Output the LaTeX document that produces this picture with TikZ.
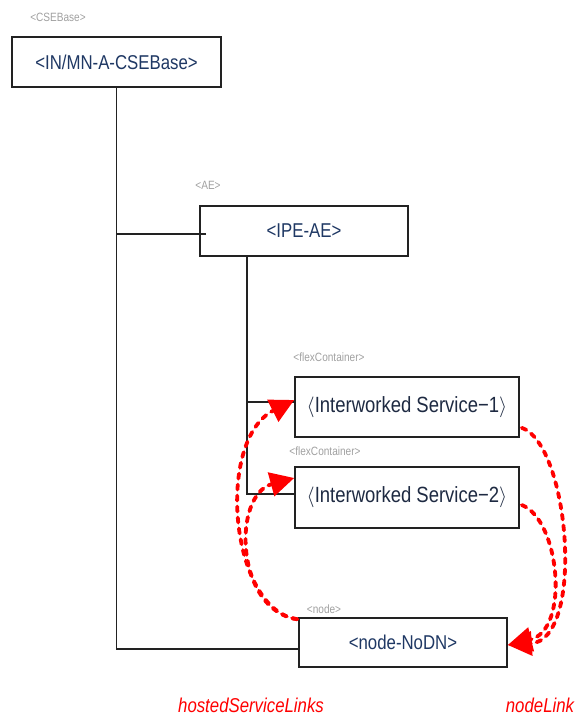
\documentclass[tikz,border=0pt]{standalone}
\usepackage{fontspec}
\newfontfamily\cf{Liberation Sans}[FakeStretch=0.84]
\usetikzlibrary{arrows.meta}
\definecolor{navy}{RGB}{31,56,100}
\definecolor{iwnavy}{RGB}{30,42,66}
\definecolor{lblgray}{RGB}{160,160,160}
\definecolor{edgeblack}{RGB}{34,34,34}
\tikzset{
 box/.style={draw=edgeblack, line width=1.6pt, fill=white, inner sep=0pt, text=navy, font=\cf\fontsize{20}{20}\selectfont},
 iwbox/.style={box, text=iwnavy, font=\cf\fontsize{22}{22}\selectfont},
 tag/.style={text=lblgray, inner sep=0pt, font=\cf\fontsize{12}{12}\selectfont},
 tree/.style={draw=edgeblack, line width=1.5pt},
 link/.style={draw=red, line width=3.8pt, line cap=round, dash pattern=on 5pt off 6pt, -{Triangle[length=24pt 0,width=24pt 0]}},
 linklabel/.style={text=red, inner sep=0pt, font=\cf\itshape\fontsize{20}{20}\selectfont}
}
\begin{document}
\begin{tikzpicture}[x=1pt,y=-1pt]
\useasboundingbox (0,0) rectangle (581,718);
% boxes
\node[box, minimum width=209pt, minimum height=50pt] (cse) at (116.5,62) {<IN/MN-A-CSEBase>};
\node[box, minimum width=208pt, minimum height=50pt] (ae) at (304,231) {<IPE-AE>};
\node[iwbox, minimum width=224pt, minimum height=60pt] (is1) at (407,407) {$\langle$Interworked Service−1$\rangle$};
\node[iwbox, minimum width=224pt, minimum height=61pt] (is2) at (407,497.5) {$\langle$Interworked Service−2$\rangle$};
\node[box, minimum width=208pt, minimum height=49pt] (nodedn) at (403,642.5) {<node-NoDN>};
% type tags
\node[tag] (tcse) at (58,17) {<CSEBase>};
\node[tag] (tae) at (208,185) {<AE>};
\node[tag] (tfc1) at (329,357) {<flexContainer>};
\node[tag] (tfc2) at (325,451) {<flexContainer>};
\node[tag] (tnode) at (324,609) {<node>};
% tree lines
\draw[tree] (cse.south) |- ([yshift=-6.5pt]nodedn.west);
\draw[tree] ([xshift=7pt,yshift=-3pt]ae.west) -| (cse.south);
\coordinate (aeb) at ([xshift=-57pt]ae.south);
\draw[tree] (aeb) |- ([yshift=3.5pt]is2.west);
\draw[tree] ([yshift=5pt]is1.west) -| (aeb);
% links
\draw[link] ([shift={(-1pt,-2pt)}]nodedn.north west) .. controls (230,610) and (215,440) .. ([yshift=7pt]is1.west);
\draw[link] ([shift={(-1pt,-2pt)}]nodedn.north west) .. controls (235,610) and (232,495) .. ([yshift=19.5pt]is2.west);
\draw[link] ([shift={(2pt,10pt)}]is1.south east) .. controls (570,445) and (585,640) .. ([yshift=-2.5pt]nodedn.east);
\draw[link] ([shift={(2pt,-7.5pt)}]is2.east) .. controls (560,520) and (570,630) .. ([yshift=-2.5pt]nodedn.east);
% link labels
\node[linklabel] (lhs) at (251,705) {hostedServiceLinks};
\node[linklabel] (lnl) at (540,705) {nodeLink};
\end{tikzpicture}
\end{document}
